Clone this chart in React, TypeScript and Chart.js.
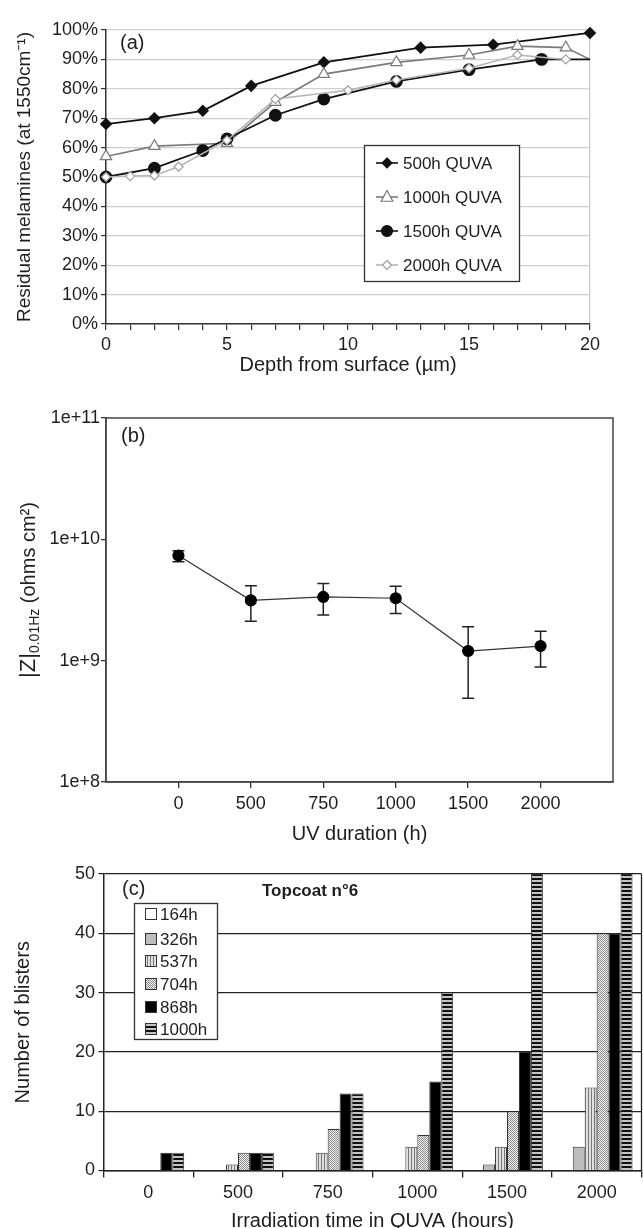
import React, { useEffect, useRef } from 'react';
import { Chart, registerables } from 'chart.js';
Chart.register(...registerables);

const FONT = "'Liberation Sans', Arial, Helvetica, sans-serif";
const INK = '#1e1e1e';

// ---------- Panel (a): residual melamines vs depth ----------
const depthSeriesNames = ['500h QUVA', '1000h QUVA', '1500h QUVA', '2000h QUVA'];
const depth500 = [0, 2, 4, 6, 9, 13, 16, 20];
const melamine500 = [68, 70, 72.5, 81, 89, 94, 95, 99];
const depth1000 = [0, 2, 5, 7, 9, 12, 15, 17, 19, 20];
const melamine1000 = [57, 60.5, 61.5, 75.5, 85, 89, 91.5, 94.5, 94, 90];
const depth1500 = [0, 2, 4, 5, 7, 9, 12, 15, 18, 20];
const melamine1500 = [50, 53, 59, 63, 71, 76.5, 82.5, 86.5, 90, 90];
const depth2000 = [0, 1, 2, 3, 5, 7, 10, 12, 15, 17, 19];
const melamine2000 = [50, 50.3, 50.5, 53.5, 62.5, 76.5, 79.5, 83, 87, 91.5, 90];
const depthTickLabels = [0, 5, 10, 15, 20];

// ---------- Panel (b): impedance modulus vs UV duration ----------
const uvLabels = ['0', '500', '750', '1000', '1500', '2000'];
const impedance = [7.35e9, 3.14e9, 3.35e9, 3.27e9, 1.2e9, 1.32e9];
const impedanceHigh = [8.07e9, 4.15e9, 4.32e9, 4.1e9, 1.9e9, 1.75e9];
const impedanceLow = [6.52e9, 2.11e9, 2.38e9, 2.45e9, 4.91e8, 8.85e8];
const impedanceTicks = [1e8, 1e9, 1e10, 1e11];
const impedanceTickLabels = ['1e+8', '1e+9', '1e+10', '1e+11'];

// ---------- Panel (c): blisters ----------
const irradiationLabels = ['0', '500', '750', '1000', '1500', '2000'];
const blisterSeries = ['164h', '326h', '537h', '704h', '868h', '1000h'];
const blisters164 = [0, 0, 0, 0, 0, 0];
const blisters326 = [0, 0, 0, 0, 1, 4];
const blisters537 = [0, 1, 3, 4, 4, 14];
const blisters704 = [0, 3, 7, 6, 10, 40];
const blisters868 = [3, 3, 13, 15, 20, 40];
const blisters1000 = [3, 3, 13, 30, 50, 50];

function makePattern(kind: string): CanvasPattern | string {
  const c = document.createElement('canvas');
  const g = c.getContext('2d');
  if (!g) return '#bbb';
  if (kind === 'vstripe') {
    c.width = 3; c.height = 3;
    g.fillStyle = '#e0e0e0'; g.fillRect(0, 0, 3, 3);
    g.fillStyle = '#777'; g.fillRect(0, 0, 1, 3);
  } else if (kind === 'check') {
    c.width = 2; c.height = 2;
    g.fillStyle = '#f4f4f4'; g.fillRect(0, 0, 2, 2);
    g.fillStyle = '#8a8a8a'; g.fillRect(0, 0, 1, 1); g.fillRect(1, 1, 1, 1);
  } else {
    c.width = 4; c.height = 4;
    g.fillStyle = '#c4c4c4'; g.fillRect(0, 0, 4, 4);
    g.fillStyle = '#111'; g.fillRect(0, 0, 4, 2);
  }
  return g.createPattern(c, 'repeat') || '#bbb';
}

function drawMarker(ctx: CanvasRenderingContext2D, kind: string, x: number, y: number, r: number, fill: string, stroke: string) {
  ctx.beginPath();
  if (kind === 'diamond') {
    ctx.moveTo(x, y - r); ctx.lineTo(x + r, y); ctx.lineTo(x, y + r); ctx.lineTo(x - r, y); ctx.closePath();
  } else if (kind === 'triangle') {
    ctx.moveTo(x, y - r); ctx.lineTo(x + r * 0.9, y + r * 0.65); ctx.lineTo(x - r * 0.9, y + r * 0.65); ctx.closePath();
  } else {
    ctx.arc(x, y, r, 0, Math.PI * 2);
  }
  ctx.fillStyle = fill; ctx.fill();
  ctx.strokeStyle = stroke; ctx.lineWidth = 1.2; ctx.stroke();
}

const legendStylesA = [
  { line: '#111', kind: 'diamond', r: 5, fill: '#111', stroke: '#111' },
  { line: '#7a7a7a', kind: 'triangle', r: 6.5, fill: '#fff', stroke: '#7a7a7a' },
  { line: '#111', kind: 'circle', r: 5.5, fill: '#111', stroke: '#111' },
  { line: '#b5b5b5', kind: 'diamond', r: 4.5, fill: '#fff', stroke: '#a0a0a0' },
];

export default function App() {
  const refA = useRef<HTMLCanvasElement>(null);
  const refB = useRef<HTMLCanvasElement>(null);
  const refC = useRef<HTMLCanvasElement>(null);

  useEffect(() => {
    Chart.defaults.font.family = FONT;
    Chart.defaults.color = INK;
    const charts: Chart[] = [];

    // ---------------- Chart (a) ----------------
    const pts = (xs: number[], ys: number[]) => xs.map((x, i) => ({ x, y: ys[i] }));
    const lastHidden = (xs: number[], r: number) => xs.map((_, i) => (i === xs.length - 1 ? 0 : r));
    const pluginA = {
      id: 'decorA',
      afterDraw(chart: any) {
        const ctx: CanvasRenderingContext2D = chart.ctx;
        ctx.save();
        ctx.fillStyle = INK;
        ctx.font = `20px ${FONT}`;
        ctx.textBaseline = 'middle';
        ctx.textAlign = 'left';
        ctx.fillText('(a)', 120, 43);
        const bx = 364, by = 145, bw = 155, bh = 136;
        ctx.fillStyle = '#fff';
        ctx.fillRect(bx, by, bw, bh);
        ctx.strokeStyle = '#333';
        ctx.lineWidth = 1.3;
        ctx.strokeRect(bx + 0.5, by + 0.5, bw, bh);
        const rows = [163, 197, 231, 265];
        depthSeriesNames.forEach((name, i) => {
          const s = legendStylesA[i];
          const y = rows[i];
          ctx.strokeStyle = s.line;
          ctx.lineWidth = 1.6;
          ctx.beginPath(); ctx.moveTo(376, y); ctx.lineTo(398, y); ctx.stroke();
          drawMarker(ctx, s.kind, 387, y, s.r, s.fill, s.stroke);
          ctx.fillStyle = INK;
          ctx.font = `17px ${FONT}`;
          ctx.textBaseline = 'middle';
          ctx.fillText(name, 403, y + 1);
        });
        ctx.restore();
      },
    };
    if (refA.current) {
      charts.push(new Chart(refA.current, {
        type: 'line',
        data: {
          datasets: [
            { label: depthSeriesNames[0], data: pts(depth500, melamine500), borderColor: '#111', borderWidth: 1.8, pointStyle: 'rectRot', pointRadius: 5, pointBackgroundColor: '#111', pointBorderColor: '#111', order: 3, clip: false },
            { label: depthSeriesNames[1], data: pts(depth1000, melamine1000), borderColor: '#7a7a7a', borderWidth: 1.6, pointStyle: 'triangle', pointRadius: lastHidden(depth1000, 6.5), pointBackgroundColor: '#fff', pointBorderColor: '#7a7a7a', pointBorderWidth: 1.2, order: 2, clip: false },
            { label: depthSeriesNames[2], data: pts(depth1500, melamine1500), borderColor: '#111', borderWidth: 1.8, pointStyle: 'circle', pointRadius: lastHidden(depth1500, 5.5), pointBackgroundColor: '#111', pointBorderColor: '#111', order: 1, clip: false },
            { label: depthSeriesNames[3], data: pts(depth2000, melamine2000), borderColor: '#b5b5b5', borderWidth: 1.5, pointStyle: 'rectRot', pointRadius: 4.5, pointBackgroundColor: '#fff', pointBorderColor: '#a0a0a0', pointBorderWidth: 1.2, order: 0, clip: false },
          ] as any,
        },
        options: {
          animation: false,
          responsive: false,
          layout: { padding: { left: 0, top: 30, right: 53, bottom: 0 } },
          plugins: { legend: { display: false }, tooltip: { enabled: false } },
          scales: {
            x: {
              type: 'linear', min: 0, max: 20,
              ticks: { stepSize: 1, autoSkip: false, maxRotation: 0, padding: 4, color: INK, font: { size: 18 },
                callback: (v: any) => (depthTickLabels.includes(Number(v)) ? String(v) : '') },
              grid: { drawOnChartArea: true, color: (c: any) => (c.tick && c.tick.value === 20 ? '#c8c8c8' : 'rgba(0,0,0,0)'), tickColor: '#333', tickLength: 6, lineWidth: 1.2 },
              border: { display: true, color: '#333', width: 1.5 },
              title: { display: true, text: 'Depth from surface (µm)', color: INK, font: { size: 20 }, padding: { top: 0, bottom: 8 } },
              afterFit: (s: any) => { s.height = 61; },
            },
            y: {
              min: 0, max: 100,
              ticks: { stepSize: 10, padding: 3, color: INK, font: { size: 18 }, callback: (v: any) => `${v}%` },
              grid: { color: '#cfcfcf', lineWidth: 1.2, tickColor: '#333', tickLength: 5 },
              border: { display: true, color: '#333', width: 1.5 },
              title: { display: true, text: 'Residual melamines (at 1550cm⁻¹)', color: INK, font: { size: 19 }, padding: { top: 13, bottom: 0 } },
              afterFit: (s: any) => { s.width = 106; },
            },
          },
        } as any,
        plugins: [pluginA],
      }));
    }

    // ---------------- Chart (b) ----------------
    const pluginB = {
      id: 'decorB',
      beforeDatasetsDraw(chart: any) {
        const ctx: CanvasRenderingContext2D = chart.ctx;
        const xs = chart.scales.x, ys = chart.scales.y;
        ctx.save();
        ctx.strokeStyle = '#222';
        ctx.lineWidth = 1.5;
        impedance.forEach((_, i) => {
          const x = xs.getPixelForValue(i);
          const yt = ys.getPixelForValue(impedanceHigh[i]);
          const yb = ys.getPixelForValue(impedanceLow[i]);
          ctx.beginPath();
          ctx.moveTo(x, yt); ctx.lineTo(x, yb);
          ctx.moveTo(x - 6, yt); ctx.lineTo(x + 6, yt);
          ctx.moveTo(x - 6, yb); ctx.lineTo(x + 6, yb);
          ctx.stroke();
        });
        ctx.restore();
      },
      afterDraw(chart: any) {
        const ctx: CanvasRenderingContext2D = chart.ctx;
        const a = chart.chartArea;
        ctx.save();
        ctx.strokeStyle = '#444';
        ctx.lineWidth = 1.5;
        ctx.strokeRect(a.left, a.top, a.right - a.left, a.bottom - a.top);
        ctx.fillStyle = INK;
        ctx.font = `20px ${FONT}`;
        ctx.textBaseline = 'middle';
        ctx.textAlign = 'left';
        ctx.fillText('(b)', 121, 51);
        // rotated y title with subscript
        const cx = 27, cy = 205;
        ctx.translate(cx, cy);
        ctx.rotate(-Math.PI / 2);
        ctx.textBaseline = 'alphabetic';
        const big = `22px ${FONT}`, sub = `14px ${FONT}`, norm = `20px ${FONT}`;
        const p1 = '|Z|', p2 = '0.01Hz', p3 = ' (ohms cm²)';
        ctx.font = big; const w1 = ctx.measureText(p1).width;
        ctx.font = sub; const w2 = ctx.measureText(p2).width;
        ctx.font = norm; const w3 = ctx.measureText(p3).width;
        let x = -(w1 + w2 + w3) / 2;
        ctx.font = big; ctx.fillText(p1, x, 8); x += w1;
        ctx.font = sub; ctx.fillText(p2, x, 12); x += w2;
        ctx.font = norm; ctx.fillText(p3, x, 8);
        ctx.restore();
      },
    };
    if (refB.current) {
      charts.push(new Chart(refB.current, {
        type: 'line',
        data: {
          datasets: [{ data: impedance.map((v, i) => ({ x: i, y: v })), borderColor: '#333', borderWidth: 1.2, pointRadius: 5.5, pointBackgroundColor: '#000', pointBorderColor: '#000', clip: false }] as any,
        },
        options: {
          animation: false,
          responsive: false,
          layout: { padding: { left: 0, top: 33, right: 30, bottom: 0 } },
          plugins: { legend: { display: false }, tooltip: { enabled: false } },
          scales: {
            x: {
              type: 'linear', min: -1, max: 6,
              afterBuildTicks: (s: any) => { s.ticks = uvLabels.map((_, i) => ({ value: i })); },
              ticks: { autoSkip: false, maxRotation: 0, padding: 5, color: INK, font: { size: 18 }, callback: (v: any) => uvLabels[Number(v)] ?? '' },
              grid: { drawOnChartArea: false, tickColor: '#333', tickLength: 6, lineWidth: 1.3 },
              border: { display: true, color: '#444', width: 1.5 },
              title: { display: true, text: 'UV duration (h)', color: INK, font: { size: 20 }, padding: { top: 0, bottom: 4 } },
              afterFit: (s: any) => { s.height = 68; },
            },
            y: {
              type: 'logarithmic', min: 1e8, max: 1e11,
              afterBuildTicks: (s: any) => { s.ticks = impedanceTicks.map((v) => ({ value: v })); },
              ticks: { padding: 1, color: INK, font: { size: 18 }, callback: (_v: any, i: number) => impedanceTickLabels[i] },
              grid: { drawOnChartArea: false, tickColor: '#333', tickLength: 5, lineWidth: 1.3 },
              border: { display: true, color: '#444', width: 1.5 },
              afterFit: (s: any) => { s.width = 106; },
            },
          },
        } as any,
        plugins: [pluginB],
      }));
    }

    // ---------------- Chart (c) ----------------
    const fills: any[] = ['#ffffff', '#bdbdbd', makePattern('vstripe'), makePattern('check'), '#000000', makePattern('hstripe')];
    const blisterData = [blisters164, blisters326, blisters537, blisters704, blisters868, blisters1000];
    const pluginC = {
      id: 'decorC',
      afterDraw(chart: any) {
        const ctx: CanvasRenderingContext2D = chart.ctx;
        const a = chart.chartArea;
        ctx.save();
        ctx.strokeStyle = '#222';
        ctx.lineWidth = 1.3;
        ctx.beginPath(); ctx.moveTo(a.right, a.top); ctx.lineTo(a.right, a.bottom); ctx.stroke();
        ctx.fillStyle = INK;
        ctx.font = `20px ${FONT}`;
        ctx.textBaseline = 'middle';
        ctx.textAlign = 'left';
        ctx.fillText('(c)', 122, 39);
        ctx.font = `bold 17px ${FONT}`;
        ctx.fillText('Topcoat n°6', 262, 41);
        const bx = 134, by = 53, bw = 83, bh = 136;
        ctx.fillStyle = '#fff';
        ctx.fillRect(bx, by, bw, bh);
        ctx.strokeStyle = '#333';
        ctx.lineWidth = 1.3;
        ctx.strokeRect(bx + 0.5, by + 0.5, bw, bh);
        const rows = [64, 89, 111, 134, 157, 179];
        blisterSeries.forEach((name, i) => {
          const y = rows[i];
          ctx.fillStyle = fills[i];
          ctx.fillRect(145, y - 6, 12, 12);
          ctx.strokeStyle = '#333';
          ctx.lineWidth = 1;
          ctx.strokeRect(145.5, y - 5.5, 11, 11);
          ctx.fillStyle = INK;
          ctx.font = `17px ${FONT}`;
          ctx.fillText(name, 160, y + 1);
        });
        ctx.restore();
      },
    };
    if (refC.current) {
      charts.push(new Chart(refC.current, {
        type: 'bar',
        data: {
          labels: irradiationLabels,
          datasets: blisterSeries.map((name, k) => ({
            label: name, data: blisterData[k], backgroundColor: fills[k], borderColor: '#333', borderWidth: 1,
            categoryPercentage: 0.8, barPercentage: 1.0,
          })) as any,
        },
        options: {
          animation: false,
          responsive: false,
          layout: { padding: { left: 0, top: 24, right: 1.5, bottom: 0 } },
          plugins: { legend: { display: false }, tooltip: { enabled: false } },
          scales: {
            x: {
              ticks: { padding: 5, color: INK, font: { size: 18 }, maxRotation: 0, autoSkip: false },
              grid: { offset: true, drawOnChartArea: false, tickColor: '#222', tickLength: 7, lineWidth: 1.3 },
              border: { display: true, color: '#222', width: 1.5 },
              title: { display: true, text: 'Irradiation time in QUVA (hours)', color: INK, font: { size: 20 }, padding: { top: 0, bottom: 7 } },
              afterFit: (s: any) => { s.height = 69.5; },
            },
            y: {
              min: 0, max: 50,
              ticks: { stepSize: 10, padding: 3.5, color: INK, font: { size: 18 } },
              grid: { color: '#222', lineWidth: 1.2, tickColor: '#222', tickLength: 5 },
              border: { display: true, color: '#222', width: 1.5 },
              title: { display: true, text: 'Number of blisters', color: INK, font: { size: 20 }, padding: { top: 11.5, bottom: 0 } },
              afterFit: (s: any) => { s.width = 103.5; },
            },
          },
        } as any,
        plugins: [pluginC],
      }));
    }

    return () => { charts.forEach((c) => c.destroy()); };
  }, []);

  return (
    <div style={{ position: 'absolute', left: 0, top: 0, width: 643, height: 1228, overflow: 'hidden', background: '#fff' }}>
      <canvas ref={refA} width={643} height={385} style={{ position: 'absolute', left: 0, top: 0, width: 643, height: 385 }} />
      <canvas ref={refB} width={643} height={465} style={{ position: 'absolute', left: 0, top: 385, width: 643, height: 465 }} />
      <canvas ref={refC} width={643} height={390} style={{ position: 'absolute', left: 0, top: 850, width: 643, height: 390 }} />
    </div>
  );
}
